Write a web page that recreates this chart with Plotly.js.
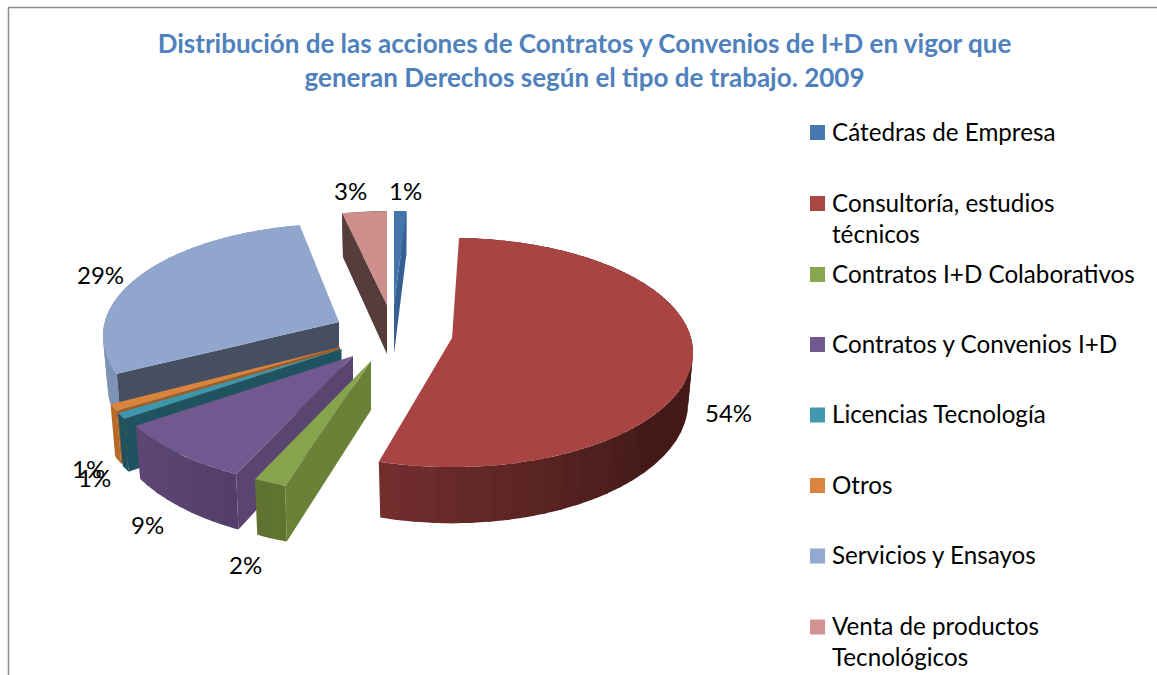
<!DOCTYPE html>
<html><head><meta charset="utf-8">
<script src="https://cdn.plot.ly/plotly-3.0.1.min.js"></script>
<style>html,body{margin:0;padding:0;background:#fff;overflow:hidden}#c{width:1157px;height:675px}</style>
</head><body><div id="c"></div>
<script>
// ---- data ----
const categories = ["Cátedras de Empresa","Consultoría, estudios técnicos","Contratos I+D Colaborativos","Contratos y Convenios I+D","Licencias Tecnología","Otros","Servicios y Ensayos","Venta de productos Tecnológicos"];
const legendLabels = ["Cátedras de Empresa","Consultoría, estudios<br>técnicos","Contratos I+D Colaborativos","Contratos y Convenios I+D","Licencias Tecnología","Otros","Servicios y Ensayos","Venta de productos<br>Tecnológicos"];
const shares = [1.0,53.5,1.9,8.8,0.9,1.0,29.45,3.45];
const titleText = "Distribución de las acciones de Contratos y Convenios de I+D en vigor que<br>generan Derechos según el tipo de trabajo. 2009";

// ---- styling ----
const topColors = ["#4475ab","#a84543","#87a34c","#71588f","#3c97ae","#d9843c","#90a6cd","#cd8f8c"];
const legendColors = ["#4677ae","#aa4643","#89a54e","#71588f","#4198af","#db843d","#93a9cf","#d19392"];
const radialColors = ["#365f94","#6f2d2d","#6a8238","#5a4470","#1f5360","#9c5d27","#454f61","#563c3b"];
const wallStops = [["#365f94","#365f94"],["#431a18","#431a18","#431a18","#722f2e"],["#60732f","#5f7230"],["#533f69","#5e4675"],["#1f5360","#1f5360"],["#b86a28","#b86a28"],["#7d93b5","#8096b8"],["#563c3b","#563c3b"]];

// ---- view geometry of the exploded, tilted pie ----
const apexX = [394,452,371,353,341.5,340,339,387];
const apexY = [305,338,361,356,349,347,322,305];
const radiusScale = [0.93,1,1.02,1.02,1.02,1.02,0.98,0.93];
const startShift = [0,-1.7,1.8,2,1,0.7,2.1,-0.6];   // perspective correction of the slice edges, degrees
const endShift = [0,-0.6,1.8,1,0.7,0.6,1.6,0];
const visibleEdge = [1,-1,0,0,0,0,0,0];           // which cut face is seen: 0 start, 1 end, -1 none
const A = 239, B = 112.7, K = 0.127, DEPTH = 49, FLOOR = 0.98;
const drawOrder = [7,0,6,5,4,3,2,1];
const labelX = [405,728,245,147,94,88,100,350];
const labelY = [190,412,564,524,477,468,274,190];
const legendY = [132.5,203.5,274.5,344.5,415,485.5,556,627];

const total = shares.reduce((a,b)=>a+b,0);
function hex(c){return [1,3,5].map(i=>parseInt(c.substr(i,2),16));}
function mix(stops,t){
  const p=Math.min(Math.max(t,0),1)*(stops.length-1),i=Math.min(Math.floor(p),stops.length-2),f=p-i;
  const a=hex(stops[i]),b=hex(stops[i+1]);
  return "rgb("+a.map((v,j)=>Math.round(v+(b[j]-v)*f)).join(",")+")";
}
function proj(i,deg,r){
  const th=deg*Math.PI/180,u=Math.sin(th)*r*radiusScale[i],v=-Math.cos(th)*r*radiusScale[i],s=1/(1-K*v);
  return {x:apexX[i]+A*u*s,y:apexY[i]+B*v*s,s:s};
}
function floorPt(i,deg,r){
  const p=proj(i,deg,r);
  return {x:apexX[i]+(p.x-apexX[i])*FLOOR,y:p.y+DEPTH*p.s};
}
function poly(pts,color){
  return {type:"scatter",mode:"none",x:pts.map(p=>p.x).concat([pts[0].x]),y:pts.map(p=>p.y).concat([pts[0].y]),
    fill:"toself",fillcolor:color,hoverinfo:"skip",showlegend:false};
}
function arc(i,a0,a1,step,fn){const out=[],n=Math.max(1,Math.ceil(Math.abs(a1-a0)/step));for(let k=0;k<=n;k++)out.push(fn(i,a0+(a1-a0)*k/n,1));return out;}

let cum=0;const starts=[],ends=[];
shares.forEach((v,i)=>{starts[i]=cum/total*360+startShift[i];cum+=v;ends[i]=cum/total*360+endShift[i];});

const traces=[];
drawOrder.forEach(i=>{
  const a0=starts[i],a1=ends[i],sweep=a1-a0,strips=Math.max(2,Math.round(sweep/4));
  for(let k=0;k<strips;k++){
    const b0=a0+sweep*k/strips,b1=Math.min(a1,a0+sweep*(k+1)/strips+1);
    const top=arc(i,b0,b1,1,proj),bot=arc(i,b0,b1,1,floorPt).reverse();
    traces.push(poly(top.concat(bot),mix(wallStops[i],(k+0.5)/strips)));
  }
  const ap={x:apexX[i],y:apexY[i]};
  if(visibleEdge[i]>=0){
    const a=visibleEdge[i]?a1:a0;
    traces.push(poly([ap,proj(i,a,1),floorPt(i,a,1),{x:ap.x,y:ap.y+DEPTH}],radialColors[i]));
  }
  traces.push(poly([ap].concat(arc(i,a0,a1,1,proj)),topColors[i]));
});
traces.push({type:"scatter",mode:"markers",x:legendY.map(()=>817.5),y:legendY,
  marker:{symbol:"square",size:15,color:legendColors,line:{width:0}},hoverinfo:"skip",showlegend:false,name:"Leyenda"});

const FONT="Lato, Carlito, Calibri, sans-serif";
const annotations=[];
shares.forEach((v,i)=>{
  annotations.push({x:labelX[i],y:labelY[i],xref:"x",yref:"y",text:Math.round(v)+"%",showarrow:false,xanchor:"center",yanchor:"middle",font:{family:FONT,size:24,color:"#000"}});
  annotations.push({x:830,y:legendY[i]-18,xref:"x",yref:"y",text:legendLabels[i],showarrow:false,xanchor:"left",yanchor:"top",align:"left",font:{family:FONT,size:24.2,color:"#000"}});
});

const axis={visible:false,fixedrange:true};
Plotly.newPlot("c",traces,{
  width:1157,height:675,margin:{l:0,r:0,t:0,b:0,pad:0},paper_bgcolor:"#fff",plot_bgcolor:"#fff",showlegend:false,
  title:{text:titleText,x:584.5/1157,xanchor:"center",y:1-53/675,yanchor:"top",font:{family:FONT,size:26,color:"#4f81bd",weight:700}},
  xaxis:Object.assign({range:[0,1157]},axis),yaxis:Object.assign({range:[675,0]},axis),
  annotations:annotations,
  shapes:[
    {type:"line",xref:"x",yref:"y",x0:8.5,x1:8.5,y0:7,y1:675,line:{color:"#8c8c8c",width:1.5}},
    {type:"line",xref:"x",yref:"y",x0:8,x1:1157,y0:7.5,y1:7.5,line:{color:"#8c8c8c",width:1.5}}
  ]
},{displayModeBar:false,staticPlot:true});
</script></body></html>
